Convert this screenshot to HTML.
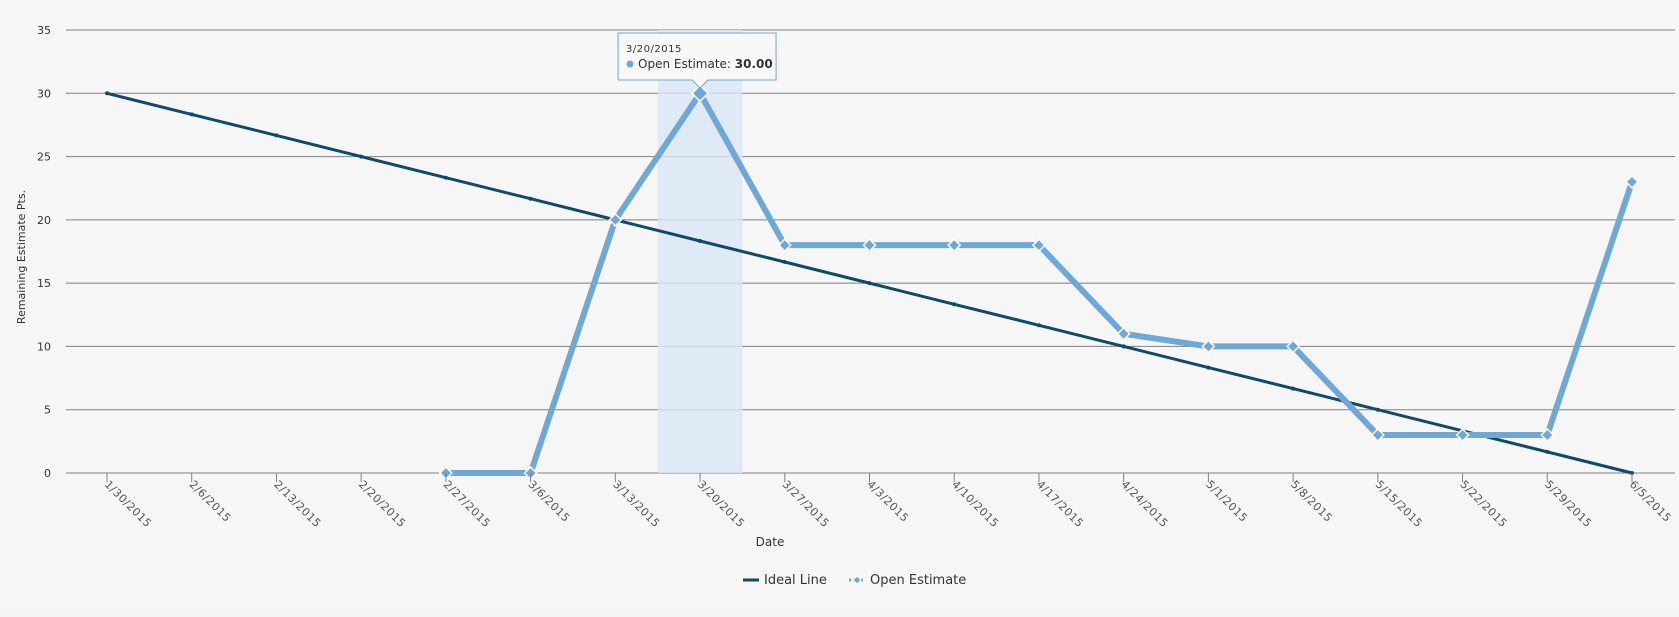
<!DOCTYPE html>
<html><head><meta charset="utf-8"><style>
body{margin:0;background:#f5f5f5;font-family:"Liberation Sans","DejaVu Sans",sans-serif;}
svg text{font-family:"DejaVu Sans","Liberation Sans",sans-serif;}
</style></head><body>
<svg id="c" width="1679" height="612" xmlns="http://www.w3.org/2000/svg">
<rect width="1679" height="612" fill="#f6f6f6"/>
<g id="grid"></g><g id="band"></g><g id="series"></g><g id="axes"></g><g id="tip"></g>
<text x="770" y="546" font-size="12" fill="#333" text-anchor="middle">Date</text>
<text transform="translate(25,257) rotate(-90)" font-size="11" fill="#333" text-anchor="middle">Remaining Estimate Pts.</text>
<g>
<line x1="743" y1="580" x2="759" y2="580" stroke="#0d4a6b" stroke-width="3"/>
<text x="764" y="584" font-size="13" fill="#333">Ideal Line</text></g>
<g>
<line x1="849" y1="580" x2="865" y2="580" stroke="#6fa8d6" stroke-width="3" stroke-dasharray="2,2"/>
<path d="M857 576 L861 580 L857 584 L853 580 Z" fill="#6fa8d6" stroke="#fff"/>
<text x="870" y="584" font-size="13" fill="#333">Open Estimate</text></g>
</svg>
<script>
const categories=["1/30/2015","2/6/2015","2/13/2015","2/20/2015","2/27/2015","3/6/2015","3/13/2015","3/20/2015","3/27/2015","4/3/2015","4/10/2015","4/17/2015","4/24/2015","5/1/2015","5/8/2015","5/15/2015","5/22/2015","5/29/2015","6/5/2015"];
const idealValues=[30,28.33,26.67,25,23.33,21.67,20,18.33,16.67,15,13.33,11.67,10,8.33,6.67,5,3.33,1.67,0];
const openValues=[null,null,null,null,0,0,20,30,18,18,18,18,11,10,10,3,3,3,23];
const yTicks=[0,5,10,15,20,25,30,35];
const hoverIndex=7;
const NS="http://www.w3.org/2000/svg";
const X0=107,X1=1632,Y0=473,YT=30,YMAX=35;
function xs(i){return X0+(X1-X0)*i/(categories.length-1);}
function ys(v){return Y0-(Y0-YT)*v/YMAX;}
function mk(t,a,p){const e=document.createElementNS(NS,t);for(const k in a)e.setAttribute(k,a[k]);p.appendChild(e);return e;}
const grid=document.getElementById('grid'),axes=document.getElementById('axes'),ser=document.getElementById('series'),band=document.getElementById('band'),tip=document.getElementById('tip');
yTicks.forEach(v=>{
 const l=mk('line',{x1:66,x2:1675,y1:ys(v),y2:ys(v),stroke:'#808080','stroke-width':1},grid);
 
 
 const t=mk('text',{x:51,y:ys(v)+4,'font-size':11,fill:'#333','text-anchor':'end'},axes);t.textContent=v;
 
 
});
categories.forEach((c,i)=>{
 const tk=mk('line',{x1:xs(i),x2:xs(i),y1:Y0,y2:Y0+9,stroke:'#808080'},axes);
 
 
 const t=mk('text',{transform:`translate(${xs(i)-3},${Y0+12}) rotate(45)`,'font-size':11,fill:'#555','letter-spacing':'0.5'},axes);t.textContent=c;
 
 
});
const bw=(X1-X0)/(categories.length-1);
const br=mk('rect',{x:xs(hoverIndex)-bw/2,y:YT+0,width:bw,height:Y0-YT,fill:'#dbe6f6',opacity:0.8},band);


let d=idealValues.map((v,i)=>(i?'L':'M')+xs(i)+' '+ys(v)).join(' ');
const il=mk('path',{d:d,fill:'none',stroke:'#0d4a6b','stroke-width':3},ser);


idealValues.forEach((v,i)=>{const c=mk('circle',{cx:xs(i),cy:ys(v),r:2,fill:'#0d4a6b'},ser);
 
 });
let d2='',st=true;openValues.forEach((v,i)=>{if(v===null)return;d2+=(st?'M':'L')+xs(i)+' '+ys(v)+' ';st=false;});
const ol=mk('path',{d:d2,fill:'none',stroke:'#6fa8d6','stroke-width':6,'stroke-linejoin':'round'},ser);


openValues.forEach((v,i)=>{if(v===null)return;const x=xs(i),y=ys(v),r=i===hoverIndex?8:6;
 const p=mk('path',{d:`M${x} ${y-r} L${x+r} ${y} L${x} ${y+r} L${x-r} ${y} Z`,fill:'#6fa8d6',stroke:'#fff','stroke-width':1.5},ser);
 
 });
const hx=xs(hoverIndex),hy=ys(openValues[hoverIndex]);
const tb=mk('path',{d:`M${hx-82} 33 H${hx+76} V80 H${hx+8} L${hx} 88 L${hx-8} 80 H${hx-82} Z`,fill:'#f7f7f7',stroke:'#6fa8d6','stroke-width':1},tip);


const t1=mk('text',{x:hx-74,y:52,'font-size':10,fill:'#333','letter-spacing':'0.5'},tip);t1.textContent=categories[hoverIndex];


mk('circle',{cx:hx-70,cy:64,r:3.5,fill:'#6fa8d6'},tip);
const t2=mk('text',{x:hx-62,y:68,'font-size':12,fill:'#333'},tip);
t2.innerHTML='Open Estimate: <tspan font-weight="bold">'+openValues[hoverIndex].toFixed(2)+'</tspan>';


</script>
</body></html>
